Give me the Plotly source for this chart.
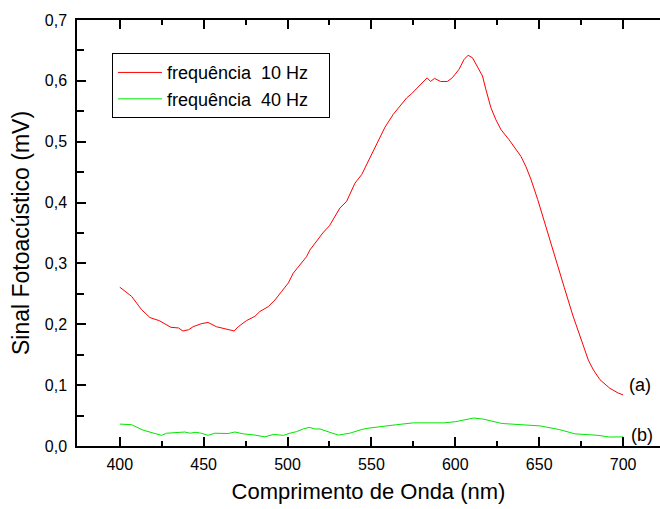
import plotly.graph_objects as go

# Photoacoustic signal vs wavelength, two modulation frequencies
wl_10hz = [400, 407, 413, 418, 423.5, 430.5, 435, 437.6, 441, 443.7, 448.6, 452.6,
           457.6, 462.6, 466.6, 468.2, 470.6, 475.5, 480.5, 483.5, 488.5, 492.5,
           496.5, 500.5, 503.4, 508.4, 511.3, 513.3, 517, 521, 525, 528, 531.2,
           535.2, 540.2, 544.2, 550.1, 553.1, 558.1, 563, 567, 571, 574, 578.2,
           581.2, 583.2, 585.2, 587.6, 591.2, 595.2, 598.2, 600.2, 602.2, 605.2,
           607.6, 610.2, 613.2, 616.2, 618.2, 621.2, 624.2, 627.2, 632.1, 636.1,
           639.1, 642.1, 645.1, 649.1, 652.1, 656, 660, 665, 670, 675, 679.3,
           682.3, 686.2, 692, 697.1, 700]
sig_10hz = [0.261, 0.246, 0.224, 0.211, 0.206, 0.195, 0.194, 0.189, 0.191, 0.196,
            0.201, 0.203, 0.196, 0.193, 0.191, 0.189, 0.196, 0.206, 0.213, 0.221,
            0.229, 0.240, 0.254, 0.268, 0.284, 0.300, 0.311, 0.322, 0.335, 0.350,
            0.362, 0.375, 0.391, 0.402, 0.432, 0.446, 0.479, 0.498, 0.524, 0.545,
            0.558, 0.572, 0.579, 0.591, 0.598, 0.605, 0.599, 0.604, 0.599, 0.599,
            0.605, 0.613, 0.619, 0.635, 0.642, 0.638, 0.624, 0.608, 0.586, 0.556,
            0.536, 0.520, 0.503, 0.487, 0.476, 0.459, 0.438, 0.405, 0.377, 0.340,
            0.305, 0.260, 0.215, 0.175, 0.141, 0.125, 0.109, 0.095, 0.087, 0.084]

wl_40hz = [400, 407, 413.9, 421.9, 424.9, 427.9, 436.8, 438.8, 442, 445, 448.6,
           452.6, 456.6, 464.6, 468.6, 473.6, 480.5, 486.5, 491.5, 497.5, 501.4,
           505.4, 509.3, 512.9, 516.3, 519.3, 525.2, 530.2, 537.1, 540, 544,
           547.4, 555, 565, 575, 581.8, 593.3, 600.2, 607, 611, 617, 627.7,
           650.6, 662, 671.3, 685, 691.9, 700]
sig_40hz = [0.036, 0.035, 0.026, 0.019, 0.0175, 0.021, 0.0225, 0.023, 0.021,
            0.0225, 0.021, 0.0175, 0.021, 0.0205, 0.023, 0.020, 0.018, 0.015,
            0.019, 0.0175, 0.021, 0.0236, 0.028, 0.0307, 0.028, 0.028, 0.0225,
            0.018, 0.021, 0.024, 0.027, 0.029, 0.032, 0.035, 0.038, 0.038, 0.038,
            0.040, 0.044, 0.046, 0.044, 0.037, 0.033, 0.027, 0.020, 0.0175,
            0.0147, 0.015]

x_ticks = [400, 450, 500, 550, 600, 650, 700]
y_ticks = [0.0, 0.1, 0.2, 0.3, 0.4, 0.5, 0.6, 0.7]
y_range = [0, 0.7]

FONT = "Liberation Sans, Arial, sans-serif"
BLACK = "black"

fig = go.Figure()
fig.add_trace(go.Scatter(x=wl_10hz, y=sig_10hz, mode="lines",
                         name="frequência\u00a0\u00a010 Hz\u00a0\u00a0\u00a0",
                         line=dict(color="#ff0000", width=1)))
fig.add_trace(go.Scatter(x=wl_40hz, y=sig_40hz, mode="lines",
                         name="frequência\u00a0\u00a040 Hz\u00a0\u00a0\u00a0",
                         line=dict(color="#00e600", width=1)))

tick_font = dict(family=FONT, size=16, color=BLACK)
title_font = dict(family=FONT, size=22, color=BLACK)

fig.update_xaxes(
    range=[374.5, 722], tickvals=x_ticks,
    showline=True, linecolor=BLACK, linewidth=1.5, mirror="ticks",
    ticks="inside", ticklen=9, tickwidth=1.5, tickcolor=BLACK,
    minor=dict(ticks="inside", ticklen=5, tickwidth=1.5,
               tickcolor=BLACK, dtick=25, tick0=375),
    showgrid=False, zeroline=False,
    tickfont=tick_font, ticklabelstandoff=3,
    title=dict(text="Comprimento de Onda (nm)", font=title_font, standoff=12),
)
fig.update_yaxes(
    range=y_range, tickvals=y_ticks, tickformat=".1f",
    showline=True, linecolor=BLACK, linewidth=1.5, mirror=False,
    ticks="inside", ticklen=9, tickwidth=1.5, tickcolor=BLACK,
    minor=dict(ticks="inside", ticklen=7, tickwidth=1.5,
               tickcolor=BLACK, dtick=0.05, tick0=0),
    showgrid=False, zeroline=False,
    tickfont=tick_font, ticklabelstandoff=5,
    title=dict(text="Sinal Fotoacústico (mV)",
               font=dict(family=FONT, size=23, color=BLACK), standoff=9),
)

# right-hand frame: ticks only, the frame line itself falls just past the edge
fig.update_layout(yaxis2=dict(
    overlaying="y", side="right", range=y_range, tickvals=y_ticks,
    showline=False, ticks="inside", ticklen=4, tickwidth=1.5, tickcolor=BLACK,
    showticklabels=False, showgrid=False, zeroline=False,
))

fig.add_annotation(x=710, y=0.1, text="(a)", showarrow=False,
                   font=dict(family=FONT, size=18, color=BLACK))
fig.add_annotation(x=711.5, y=0.018, text="(b)", showarrow=False,
                   font=dict(family=FONT, size=18, color=BLACK))

fig.update_layout(
    width=660, height=509,
    margin=dict(l=77, r=0, t=20, b=63),
    paper_bgcolor="white", plot_bgcolor="white",
    separators=",.",
    showlegend=True,
    legend=dict(x=0.06, y=0.922, xanchor="left", yanchor="top",
                bordercolor=BLACK, borderwidth=1, bgcolor="white",
                font=dict(family=FONT, size=18, color=BLACK),
                itemwidth=44, tracegroupgap=0),
)

fig.write_html("out.html")
